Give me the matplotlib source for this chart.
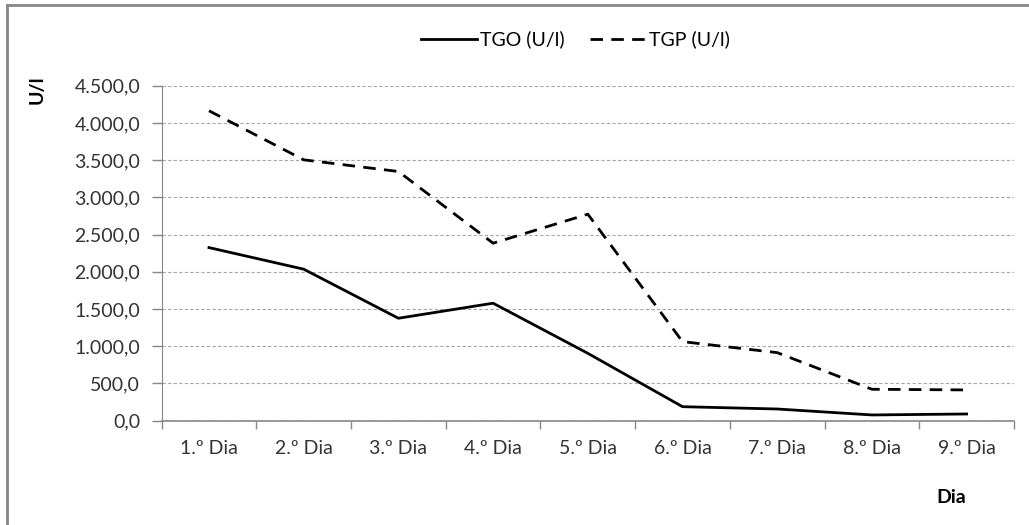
import matplotlib.pyplot as plt
from matplotlib.lines import Line2D
from matplotlib.ticker import FuncFormatter
import numpy as np

# dias e valores das transaminases
dias = ['1.º Dia', '2.º Dia', '3.º Dia', '4.º Dia', '5.º Dia',
        '6.º Dia', '7.º Dia', '8.º Dia', '9.º Dia']
tgo = [2325, 2035, 1376, 1578, 905, 188, 157, 77, 90]
tgp = [4163, 3504, 3347, 2384, 2774, 1062, 914, 422, 413]

plt.rcParams['font.family'] = ['Lato', 'DejaVu Sans']
cinza = '#868686'
fs = 14

fig = plt.figure(figsize=(10.29, 5.25), dpi=100)
ax = fig.add_axes([0.1571, 0.1987, 0.8283, 0.6381])

x = np.arange(len(dias))
tracejado = (4.5, 3)
ax.plot(x, tgo, color='black', lw=2.0, label='TGO (U/l)')
ax.plot(x, tgp, color='black', lw=2.0, dashes=tracejado, label='TGP (U/l)')

ax.set_xlim(-0.5, len(dias) - 0.5)
ax.set_ylim(0, 4500)
ax.set_yticks(np.arange(0, 4501, 500))
ax.yaxis.set_major_formatter(FuncFormatter(
    lambda v, p: '{:,.1f}'.format(v).replace(',', 'X').replace('.', ',').replace('X', '.')))

# rótulos das categorias no centro, traços nas divisões
ax.set_xticks(x)
ax.set_xticklabels(dias)
ax.set_xticks(np.arange(-0.5, len(dias)), minor=True)
ax.tick_params(axis='x', which='major', length=0, pad=14, labelsize=fs, labelcolor='#333333')
ax.tick_params(axis='x', which='minor', length=5.5, color=cinza, width=1)
ax.tick_params(axis='y', length=7, color=cinza, width=1, pad=8.5, labelsize=fs, labelcolor='#333333')

ax.grid(axis='y', color='#a6a6a6', ls=(0, (3, 2)), lw=0.8)
ax.set_axisbelow(True)
for s in ['top', 'right']:
    ax.spines[s].set_visible(False)
ax.spines['left'].set_color(cinza)
ax.spines['bottom'].set_color(cinza)
ax.spines['bottom'].set_linewidth(1.2)

fig.text(0.036, 0.83, 'U/l', rotation=90, fontsize=fs, fontweight='bold', ha='center', va='center')
fig.text(0.924, 0.053, 'Dia', fontsize=fs, fontweight='bold', ha='center', va='center')

handles = [Line2D([], [], color='black', lw=2.0),
           Line2D([], [], color='black', lw=2.0, dashes=tracejado)]
fig.legend(handles, ['TGO (U/l)', 'TGP (U/l)'], loc='center', bbox_to_anchor=(0.559, 0.925),
           ncol=2, frameon=False, fontsize=fs, handlelength=2.9, handletextpad=0.15,
           columnspacing=1.3)

# moldura do gráfico
fig.add_artist(Line2D([0.0065, 0.0065], [0.0, 0.99], transform=fig.transFigure, color=cinza, lw=2))
fig.add_artist(Line2D([0.0065, 1.0], [0.99, 0.99], transform=fig.transFigure, color=cinza, lw=2))

fig.savefig('out.png', dpi=100)
